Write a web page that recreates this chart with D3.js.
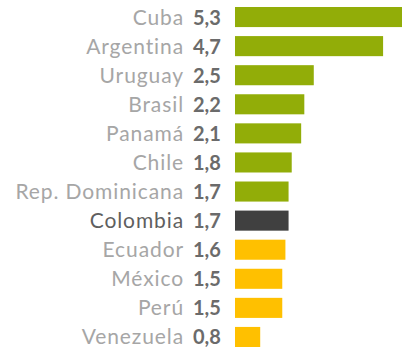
<!DOCTYPE html>
<html>
<head>
<meta charset="utf-8">
<script src="https://cdn.jsdelivr.net/npm/d3@7"></script>
<style>
  body { margin: 0; background: #fff; }
</style>
</head>
<body>
<svg id="root"></svg>
<script>
const countries = ["Cuba", "Argentina", "Uruguay", "Brasil", "Panamá", "Chile",
  "Rep. Dominicana", "Colombia", "Ecuador", "México", "Perú", "Venezuela"];
const values = [5.3, 4.7, 2.5, 2.2, 2.1, 1.8, 1.7, 1.7, 1.6, 1.5, 1.5, 0.8];
const groups = ["alto", "alto", "alto", "alto", "alto", "alto",
  "alto", "colombia", "bajo", "bajo", "bajo", "bajo"];

const width = 402,
  height = 354;

const color = d3.scaleOrdinal()
  .domain(["alto", "colombia", "bajo"])
  .range(["#92ad08", "#404040", "#ffc000"]);

const format = d3.format(".1f");
const fmt = (v) => format(v).replace(".", ",");

const data = countries.map((c, i) => ({ name: c, value: values[i], group: groups[i] }));

const x = d3.scaleLinear().domain([0, 5.3]).range([235, 402]);

// bandas de 29px, barra de 20px
const y = d3.scaleBand()
  .domain(countries)
  .range([2.5, 351.5])
  .paddingInner(0.31)
  .paddingOuter(0.155);

const svg = d3.select("svg#root")
  .attr("width", width)
  .attr("height", height)
  .attr("viewBox", [0, 0, width, height]);

const row = svg.selectAll("g")
  .data(data)
  .join("g")
  .attr("transform", (d) => `translate(0, ${y(d.name)})`);

row.append("rect")
  .attr("x", x(0))
  .attr("width", (d) => x(d.value) - x(0))
  .attr("height", y.bandwidth())
  .attr("fill", (d) => color(d.group));

const mid = y.bandwidth() / 2;

row.append("text")
  .attr("x", 184)
  .attr("y", mid + 7.5)
  .attr("text-anchor", "end")
  .attr("font-family", "Lato, 'Open Sans', sans-serif")
  .attr("font-size", "21px")
  .attr("letter-spacing", "0.9px")
  .attr("fill", (d) => (d.group === "colombia" ? "#5f5f5f" : "#a6a6a6"))
  .text((d) => d.name);

row.append("text")
  .attr("x", 193)
  .attr("y", mid + 7.5)
  .attr("font-family", "Lato, 'Open Sans', sans-serif")
  .attr("font-size", "20px")
  .attr("font-weight", "700")
  .attr("fill", "#6b6b6b")
  .text((d) => fmt(d.value));
</script>
</body>
</html>
